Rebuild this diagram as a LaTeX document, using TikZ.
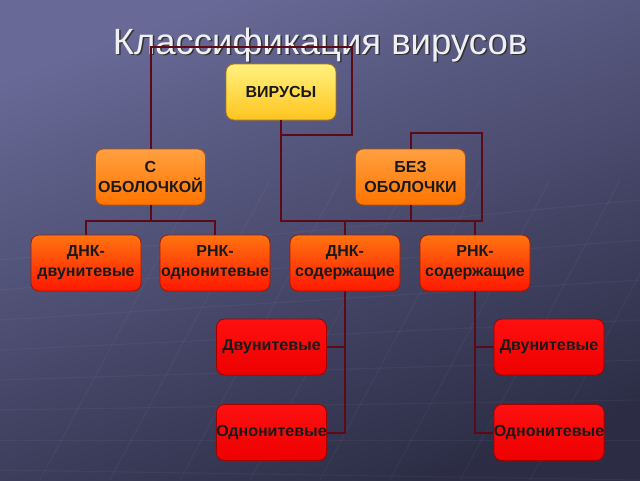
\documentclass[tikz,border=0pt]{standalone}
\usepackage{fontspec}
\setmainfont{Liberation Sans}
\usetikzlibrary{shadings}
\definecolor{bgtop}{HTML}{686996}
\definecolor{bgbot}{HTML}{2C2D45}
\definecolor{conncol}{HTML}{5C0A16}
\definecolor{yeltop}{HTML}{FFF27E}
\definecolor{yelbot}{HTML}{FFC41E}
\definecolor{yelbrd}{HTML}{B07818}
\definecolor{ortop}{HTML}{FFA040}
\definecolor{orbot}{HTML}{FF7400}
\definecolor{orbrd}{HTML}{B05010}
\definecolor{rotop}{HTML}{FF7410}
\definecolor{robot}{HTML}{FF1800}
\definecolor{robrd}{HTML}{A01808}
\definecolor{rdtop}{HTML}{FF1010}
\definecolor{rdbot}{HTML}{EE0000}
\definecolor{rdbrd}{HTML}{A00000}
\definecolor{titlecol}{HTML}{F0F0F4}
\tikzset{
  box/.style={rectangle, rounded corners=8pt, minimum width=110pt, minimum height=56pt,
    inner sep=0pt, align=center, font=\fontsize{16}{20}\selectfont\bfseries, text=black!90, line width=0.8pt},
  yelbox/.style={box, draw=yelbrd, top color=yeltop, bottom color=yelbot},
  orbox/.style={box, draw=orbrd, top color=ortop, bottom color=orbot},
  robox/.style={box, draw=robrd, top color=rotop, bottom color=robot},
  rdbox/.style={box, draw=rdbrd, top color=rdtop, bottom color=rdbot},
  conn/.style={draw=conncol, line width=2pt},
  faint/.style={draw=white, opacity=0.04, line width=1pt},
  titlefont/.style={font=\fontsize{36.5}{40}\selectfont}
}
\begin{document}
\begin{tikzpicture}[x=1pt,y=-1pt]
\useasboundingbox (0,0) rectangle (640,480);
\shade[top color=bgtop, bottom color=bgbot, shading angle=20] (0,0) rectangle (640,480);
% faint background pattern
\foreach \i in {0,...,7} {
  \draw[faint] (40+\i*70,480) -- (200+\i*70,180);
  \draw[faint] (0,260+\i*30) -- (640,200+\i*40);
}
% title with shadow
\node[text=black!80, titlefont] (titleshadow) at (321.5,46.5) {Классификация вирусов};
\node[text=titlecol, titlefont] (title) at (320,45) {Классификация вирусов};
% nodes
\node[yelbox] (vir) at (281,92) {ВИРУСЫ};
\node[orbox] (s) at (150.5,177) {С\\ОБОЛОЧКОЙ};
\node[orbox] (bez) at (410.5,177) {БЕЗ\\ОБОЛОЧКИ};
\node[robox] (dnk2) at (86,263) {ДНК-\\двунитевые};
\node[robox] (rnk1) at (215,263) {РНК-\\однонитевые};
\node[robox] (dnks) at (345,263) {ДНК-\\содержащие};
\node[robox] (rnks) at (475,263) {РНК-\\содержащие};
\node[rdbox] (d2l) at (271.5,347) {Двунитевые};
\node[rdbox] (d2r) at (549,347) {Двунитевые};
\node[rdbox] (o1l) at (271.5,432.5) {Однонитевые};
\node[rdbox] (o1r) at (549,432.5) {Однонитевые};
% junction coordinates
\coordinate (ja) at (352,135);
\coordinate (jb) at (150.5,47);
\coordinate (jc) at (482,221);
\coordinate (jd) at (410.5,133);
% connectors
\draw[conn] (vir.south |- ja) -- (ja) -- (ja |- jb) -- (jb) -- (s.north);
\draw[conn] (vir.south) -- (vir.south |- jc) -- (jc) -- (jc |- jd) -- (jd) -- (bez.north);
\draw[conn] (bez.south) -- (bez.south |- jc);
\draw[conn] (dnks.north) -- ++(0,-14) -| (rnks.north);
\draw[conn] (s.south) -- (s.south |- jc);
\draw[conn] (dnk2.north) -- ++(0,-14) -| (rnk1.north);
\draw[conn] (dnks.south) |- (o1l.east);
\draw[conn] (d2l.east) -- (dnks.south |- d2l.east);
\draw[conn] (rnks.south) |- (o1r.west);
\draw[conn] (d2r.west) -- (rnks.south |- d2r.west);
\end{tikzpicture}
\end{document}
